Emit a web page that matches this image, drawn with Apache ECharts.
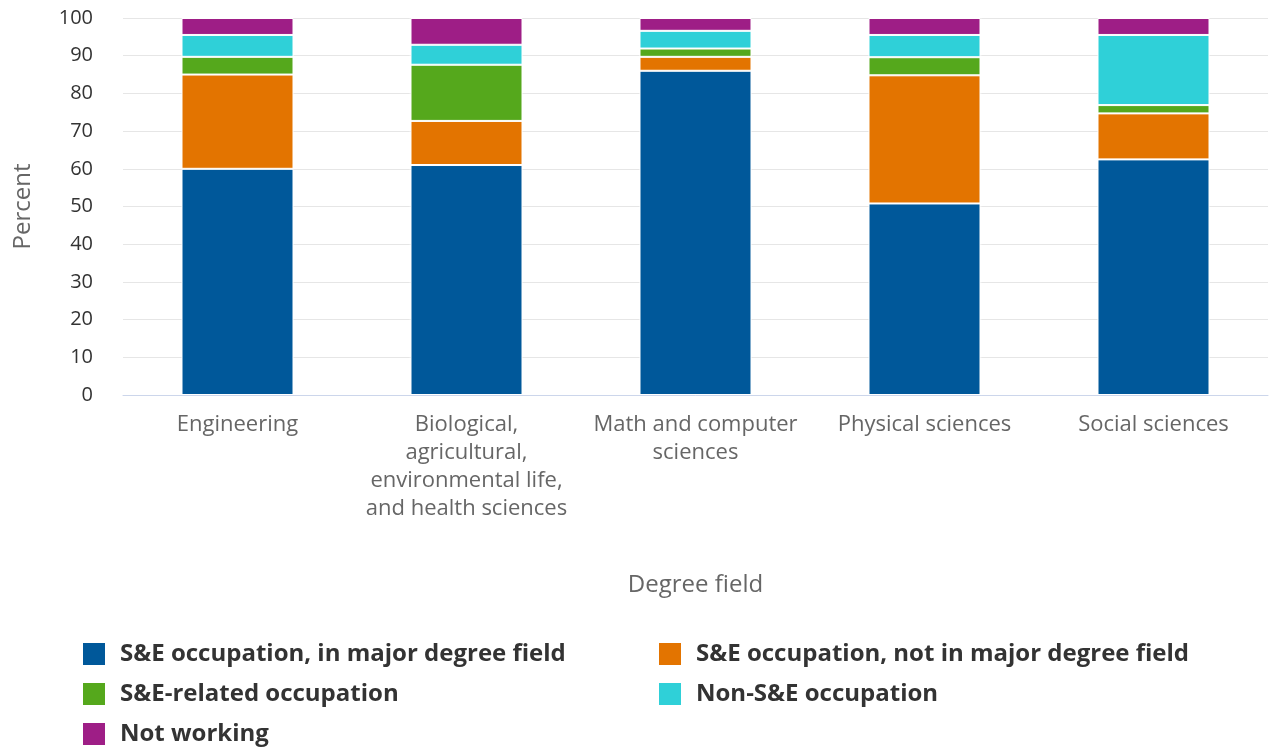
<!DOCTYPE html>
<html>
<head>
<meta charset="utf-8">
<script src="https://cdn.jsdelivr.net/npm/echarts@6/dist/echarts.min.js"></script>
<style>html,body{margin:0;padding:0;background:#fff}#c{width:1270px;height:750px}</style>
</head>
<body>
<div id="c"></div>
<script>
var categories = ['Engineering', 'Biological,\nagricultural,\nenvironmental life,\nand health sciences', 'Math and computer\nsciences', 'Physical sciences', 'Social sciences'];
var seInMajor = [60.0, 61.0, 86.0, 50.8, 62.5];
var seNotInMajor = [25.0, 11.7, 3.7, 34.0, 12.2];
var seRelated = [4.7, 14.9, 2.2, 4.8, 2.2];
var nonSE = [5.8, 5.3, 4.7, 5.9, 18.6];
var notWorking = [4.5, 7.1, 3.4, 4.5, 4.5];
var yTicks = [0, 10, 20, 30, 40, 50, 60, 70, 80, 90, 100];

var seriesNames = ['S&E occupation, in major degree field', 'S&E occupation, not in major degree field', 'S&E-related occupation', 'Non-S&E occupation', 'Not working'];
var seriesData = [seInMajor, seNotInMajor, seRelated, nonSE, notWorking];
var colors = ['#00589A', '#E37400', '#55A81C', '#2FD0D8', '#9E1E86'];

var chart = echarts.init(document.getElementById('c'));
var font = "'Open Sans', sans-serif";
var legendText = {fontSize: 24, fontWeight: 'bold', color: '#333', fontFamily: font, padding: [0, 0, 0, 9]};
var legendPos = [[81, 641], [657, 641], [81, 681], [657, 681], [81, 721]];
chart.setOption({
  animation: false,
  textStyle: {fontFamily: font},
  color: colors,
  grid: {left: 123, right: 2, top: 18, bottom: 355},
  xAxis: {
    type: 'category',
    data: categories,
    name: 'Degree field',
    nameLocation: 'middle',
    nameGap: 178,
    nameTextStyle: {fontSize: 24, color: '#666', fontFamily: font},
    axisLine: {lineStyle: {color: '#ccd6eb', width: 1}},
    axisTick: {alignWithLabel: true, length: 10, lineStyle: {color: '#ccd6eb'}},
    axisLabel: {fontSize: 22, color: '#666', lineHeight: 28, margin: 16, interval: 0, fontFamily: font}
  },
  yAxis: {
    type: 'value',
    min: 0, max: 100, interval: 10,
    name: 'Percent',
    nameLocation: 'middle',
    nameGap: 88,
    nameTextStyle: {fontSize: 24, color: '#666', fontFamily: font},
    axisLine: {show: false},
    axisTick: {show: false},
    splitLine: {lineStyle: {color: '#e6e6e6', width: 1}},
    axisLabel: {fontSize: 20, color: '#333', margin: 30, fontFamily: font,
      formatter: function (v) { return yTicks.indexOf(v) >= 0 ? String(v) : ''; }}
  },
  legend: seriesNames.map(function (n, i) {
    return {left: legendPos[i][0], top: legendPos[i][1], padding: 0, itemWidth: 24, itemHeight: 24,
      itemGap: 0, icon: 'rect', textStyle: legendText, data: [n]};
  }),
  series: seriesNames.map(function (n, i) {
    return {
      name: n, type: 'bar', stack: 'total', barWidth: 112,
      data: seriesData[i],
      itemStyle: {color: colors[i], borderColor: '#fff', borderWidth: 1}
    };
  })
});
</script>
</body>
</html>
